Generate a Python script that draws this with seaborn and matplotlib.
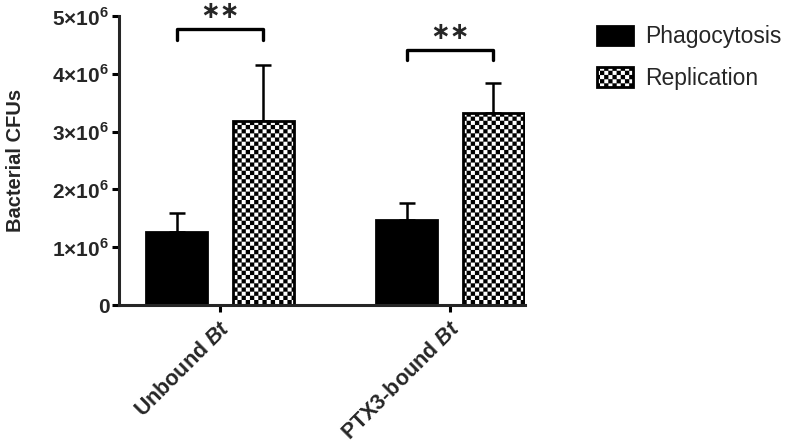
import warnings
warnings.filterwarnings('ignore')

import numpy as np
import pandas as pd
import matplotlib
matplotlib.use('Agg')
import matplotlib.pyplot as plt
import matplotlib.hatch as mhatch
from matplotlib.path import Path
import seaborn as sns

# ── Data ────────────────────────────────────────────────────
groups = ['Unbound Bt', 'PTX3-bound Bt']
group_labels = [r'Unbound $\mathbfit{Bt}$', r'PTX3-bound $\mathbfit{Bt}$']
conditions = ['Phagocytosis', 'Replication']

phago_mean = [1.265e6, 1.47e6]
phago_sd = [0.335e6, 0.30e6]
rep_mean = [3.19e6, 3.315e6]
rep_sd = [0.96e6, 0.53e6]

y_ticks = [0, 1e6, 2e6, 3e6, 4e6, 5e6]
y_tick_labels = ['0'] + [rf'{k}×10$^{{\mathbf{{6}}}}$' for k in range(1, 6)]

# significance brackets: (bracket top, leg bottom, star centre)
bracket_y = [(4.77e6, 4.58e6, 5.095e6), (4.41e6, 4.24e6, 4.73e6)]
stars = ['∗∗', '∗∗']


# ── Checkerboard hatch (GraphPad style) ─────────────────────
class CheckerHatch(mhatch.HatchPatternBase):
    def __init__(self, hatch, density):
        n = hatch.count('c') * density
        self.num_cells = n
        self.cells = [(i, j) for i in range(n) for j in range(n) if (i + j) % 2 == 0]
        self.num_vertices = len(self.cells) * 5

    def set_vertices_and_codes(self, vertices, codes):
        s = 1.0 / self.num_cells
        k = 0
        for i, j in self.cells:
            x, y = i * s, j * s
            vertices[k:k + 5] = [(x, y), (x + s, y), (x + s, y + s), (x, y + s), (x, y)]
            codes[k:k + 5] = [Path.MOVETO, Path.LINETO, Path.LINETO, Path.LINETO, Path.CLOSEPOLY]
            k += 5


mhatch._hatch_types.append(CheckerHatch)

# ── Style ───────────────────────────────────────────────────
sns.set_style('ticks')
plt.rcParams['font.family'] = ['Liberation Sans', 'DejaVu Sans']
plt.rcParams['mathtext.fontset'] = 'custom'
plt.rcParams['mathtext.rm'] = 'Liberation Sans'
plt.rcParams['mathtext.bf'] = 'Liberation Sans:bold'
plt.rcParams['mathtext.bfit'] = 'Liberation Sans:italic:bold'
plt.rcParams['hatch.linewidth'] = 0.1

df = pd.DataFrame({
    'group': groups * 2,
    'condition': [conditions[0]] * 2 + [conditions[1]] * 2,
    'cfu': phago_mean + rep_mean,
})

fig = plt.figure(figsize=(7.87, 4.46), dpi=100)
ax = fig.add_axes([0.1512, 0.3161, 0.5159, 0.648])

sns.barplot(data=df, x='group', y='cfu', hue='condition', order=groups,
            hue_order=conditions, palette=['black', 'white'], width=0.752, gap=0.295,
            errorbar=None, edgecolor='black', linewidth=2.0, legend=False, ax=ax)

for p in ax.containers[1]:
    p.set_hatch('cccc')

bar_sets = [list(ax.containers[0]), list(ax.containers[1])]

# legend (use the real bars so the hatch carries over)
ax.legend([bar_sets[0][0], bar_sets[1][0]], conditions, loc='upper left',
          bbox_to_anchor=(0.758, 0.943), bbox_transform=fig.transFigure,
          frameon=False, fontsize=16.5, handlelength=1.57, handleheight=0.92,
          handletextpad=0.55, labelspacing=0.8, borderaxespad=0, borderpad=0)

# error bars (upper only)
for bars, sd in zip(bar_sets, [phago_sd, rep_sd]):
    xs = [b.get_x() + b.get_width() / 2 for b in bars]
    ys = [b.get_height() for b in bars]
    ax.errorbar(xs, ys, yerr=[np.zeros(len(sd)), sd], fmt='none', ecolor='black',
                elinewidth=1.8, capsize=5.5, capthick=1.8, zorder=0.5)

# significance brackets
for i, (top, leg, star_y) in enumerate(bracket_y):
    x0 = bar_sets[0][i].get_x() + bar_sets[0][i].get_width() / 2
    x1 = bar_sets[1][i].get_x() + bar_sets[1][i].get_width() / 2
    ax.plot([x0, x0, x1, x1], [leg, top, top, leg], color='black', lw=2.4,
            clip_on=False, solid_joinstyle='round', solid_capstyle='round')
    ax.text((x0 + x1) / 2, star_y, stars[i], ha='center', va='center',
            fontsize=17, fontweight='bold', family='DejaVu Sans', clip_on=False)

ax.set_ylim(0, 5e6)
ax.set_xlim(-0.44, 1.326)
ax.set_yticks(y_ticks)
ax.set_yticklabels(y_tick_labels, fontsize=15, fontweight='bold')
ax.set_xticks(range(len(groups)))
ax.set_xticklabels(group_labels, rotation=45, ha='right', rotation_mode='anchor',
                   fontsize=15.5, fontweight='bold')
ax.tick_params(axis='x', pad=4)
ax.set_xlabel('')
ax.set_ylabel('Bacterial CFUs', fontsize=14.5, fontweight='bold', labelpad=20)

sns.despine(ax=ax)
for side in ['left', 'bottom']:
    ax.spines[side].set_linewidth(2.2)
ax.tick_params(axis='both', width=2.2, length=5, color='black')
ax.tick_params(axis='y', pad=2)

fig.savefig('out.png', dpi=100)
